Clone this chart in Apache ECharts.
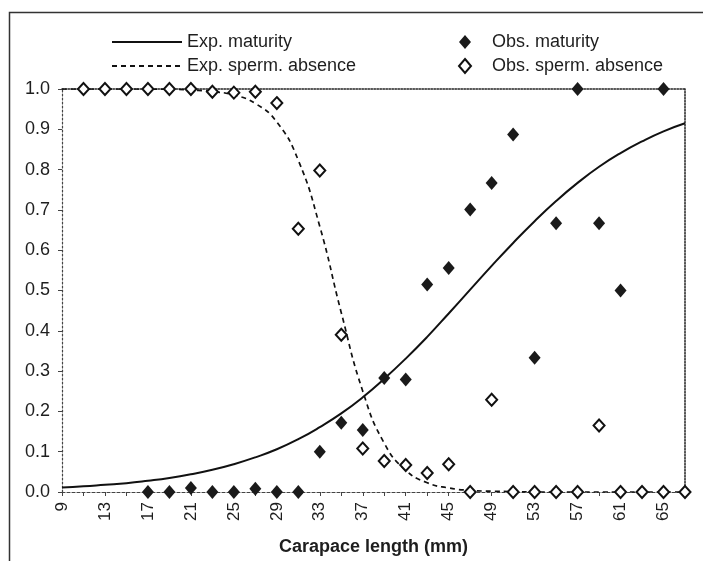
<!DOCTYPE html>
<html>
<head>
<meta charset="utf-8">
<script src="https://cdn.jsdelivr.net/npm/echarts@6/dist/echarts.min.js"></script>
<style>
  html, body { margin: 0; padding: 0; background: #fff; }
  #chart { width: 703px; height: 561px; }
</style>
</head>
<body>
<div id="chart"></div>
<script>
// Carapace length classes (mm)
const lengthMm = [9, 11, 13, 15, 17, 19, 21, 23, 25, 27, 29, 31, 33, 35, 37, 39, 41, 43, 45, 47, 49, 51, 53, 55, 57, 59, 61, 63, 65, 67];

// Expected proportion mature (fitted curve)
const expMaturity = [0.011, 0.014, 0.018, 0.022, 0.028, 0.035, 0.044, 0.055, 0.069, 0.086, 0.106, 0.131, 0.161, 0.195, 0.235, 0.281, 0.331, 0.385, 0.443, 0.502, 0.561, 0.618, 0.672, 0.722, 0.767, 0.807, 0.841, 0.870, 0.895, 0.915];

// Expected proportion without sperm (fitted curve)
const expSpermAbsence = [1.0, 1.0, 1.0, 1.0, 0.9998, 0.9994, 0.9974, 0.9937, 0.985, 0.964, 0.918, 0.823, 0.659, 0.445, 0.250, 0.121, 0.054, 0.023, 0.010, 0.004, 0.002, 0.001, 0.0, 0.0, 0.0, 0.0, 0.0, 0.0, 0.0, 0.0];

// Observed proportion mature (null = no sample)
const obsMaturity = [null, null, null, null, 0, 0, 0.01, 0, 0, 0.008, 0, 0, 0.1, 0.172, 0.154, 0.283, 0.279, 0.515, 0.556, 0.701, 0.767, 0.887, 0.333, 0.667, 1.0, 0.667, 0.5, null, 1.0, null];

// Observed proportion without sperm (null = no sample)
const obsSpermAbsence = [null, 1, 1, 1, 1, 1, 1, 0.993, 0.991, 0.993, 0.965, 0.653, 0.798, 0.39, 0.108, 0.077, 0.067, 0.047, 0.069, 0, 0.229, 0, 0, 0, 0, 0.165, 0, 0, 0, 0];

// Axis tick settings
const xMin = 9, xMax = 67, xStep = 2, xLabelStep = 4;
const yMin = 0, yMax = 1, yStep = 0.1;

const pairs = (ys) => lengthMm.map((x, i) => [x, ys[i]]).filter(p => p[1] !== null);

const FONT = '"Liberation Sans", Arial, Helvetica, sans-serif';
const INK = '#1e1e1e';
const CLEAR = 'rgba(0,0,0,0)';

const chart = echarts.init(document.getElementById('chart'), null, { renderer: 'canvas' });

chart.setOption({
  backgroundColor: '#ffffff',
  animation: false,
  textStyle: { fontFamily: FONT, color: INK },
  graphic: [{
    type: 'rect',
    shape: { x: 9.5, y: 12.5, width: 720, height: 600 },
    style: { fill: null, stroke: '#333', lineWidth: 1.5 },
    silent: true
  }],
  legend: [{
    // line samples only, no point marker
    data: ['Exp. maturity', 'Exp. sperm. absence'],
    orient: 'vertical',
    left: 106,
    top: 28,
    itemWidth: 70,
    itemHeight: 14,
    itemGap: 6,
    itemStyle: { color: CLEAR, borderColor: CLEAR, borderWidth: 0, opacity: 0 },
    textStyle: { fontSize: 18, color: INK, fontFamily: FONT },
    selectedMode: false
  }, {
    data: ['Obs. maturity', 'Obs. sperm. absence'],
    orient: 'vertical',
    left: 453,
    top: 28,
    itemWidth: 12,
    itemHeight: 14,
    itemGap: 6,
    textStyle: { fontSize: 18, color: INK, fontFamily: FONT, padding: [0, 0, 0, 16] },
    selectedMode: false
  }],
  grid: { left: 62, right: 18, top: 89, bottom: 66, containLabel: false },
  xAxis: [{
    type: 'value',
    min: xMin, max: xMax, interval: xStep,
    name: 'Carapace length (mm)',
    nameLocation: 'middle',
    nameGap: 46,
    nameTextStyle: { fontSize: 18, fontWeight: 'bold', color: INK, fontFamily: FONT },
    axisLine: { show: true, lineStyle: { color: '#444', width: 1.2, type: [3, 2] } },
    axisTick: { show: true, length: 4, lineStyle: { color: '#444' } },
    splitLine: { show: false },
    axisLabel: {
      rotate: 90, fontSize: 17, color: INK, margin: 10, fontFamily: FONT,
      showMinLabel: true, showMaxLabel: true,
      formatter: (v) => ((v - xMin) % xLabelStep === 0 && v < xMax) ? String(v) : ''
    }
  }, {
    type: 'value', position: 'top',
    min: xMin, max: xMax,
    axisLine: { show: true, onZero: false, lineStyle: { color: '#222', width: 1.5, type: 'dotted' } },
    axisTick: { show: false }, axisLabel: { show: false }, splitLine: { show: false }
  }],
  yAxis: [{
    type: 'value',
    min: yMin, max: yMax, interval: yStep,
    axisLine: { show: true, lineStyle: { color: '#444', width: 1.2, type: [2, 2] } },
    axisTick: { show: true, length: 4, lineStyle: { color: '#444' } },
    splitLine: { show: false },
    axisLabel: { fontSize: 18, color: INK, margin: 12, fontFamily: FONT, formatter: (v) => v.toFixed(1) }
  }, {
    type: 'value', position: 'right',
    min: yMin, max: yMax,
    axisLine: { show: true, onZero: false, lineStyle: { color: '#222', width: 1.5, type: 'dotted' } },
    axisTick: { show: false }, axisLabel: { show: false }, splitLine: { show: false }
  }],
  series: [{
    name: 'Exp. maturity',
    type: 'line',
    data: pairs(expMaturity),
    smooth: true,
    symbol: 'none',
    lineStyle: { color: '#111', width: 2 },
    itemStyle: { color: CLEAR },
    z: 3
  }, {
    name: 'Exp. sperm. absence',
    type: 'line',
    data: pairs(expSpermAbsence),
    smooth: true,
    symbol: 'none',
    lineStyle: { color: '#111', width: 1.7, type: [5, 4] },
    itemStyle: { color: CLEAR },
    z: 3
  }, {
    name: 'Obs. maturity',
    type: 'scatter',
    data: pairs(obsMaturity),
    symbol: 'diamond',
    symbolSize: [12, 14],
    itemStyle: { color: '#1a1a1a', opacity: 1 },
    z: 5
  }, {
    name: 'Obs. sperm. absence',
    type: 'scatter',
    data: pairs(obsSpermAbsence),
    symbol: 'diamond',
    symbolSize: [11, 12],
    itemStyle: { color: '#ffffff', borderColor: '#111', borderWidth: 2, opacity: 1 },
    z: 6
  }]
});
</script>
</body>
</html>
